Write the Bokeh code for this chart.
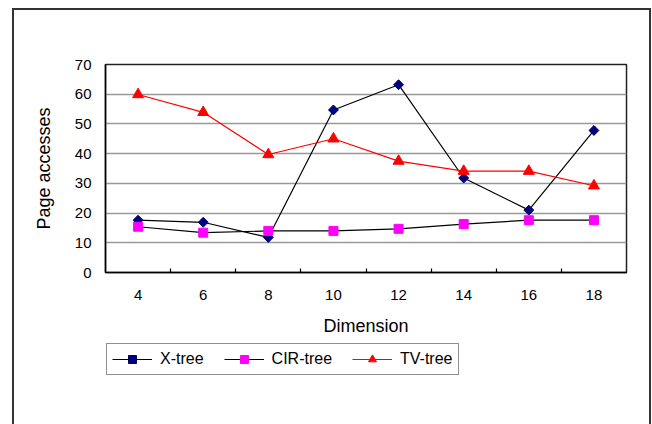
import math
from bokeh.plotting import figure
from bokeh.layouts import column
from bokeh.models import Range1d, FixedTicker, Legend, LegendItem
from bokeh.embed import file_html
from bokeh.resources import INLINE

dimensions = [4, 6, 8, 10, 12, 14, 16, 18]
x_tree = [17.6, 16.9, 11.8, 54.7, 63.2, 31.8, 21.0, 47.8]
cir_tree = [15.4, 13.4, 14.0, 14.0, 14.7, 16.3, 17.6, 17.6]
tv_tree = [59.9, 53.9, 39.7, 45.0, 37.5, 34.1, 34.1, 29.2]
y_ticks = [0, 10, 20, 30, 40, 50, 60, 70]
x_boundaries = [5, 7, 9, 11, 13, 15, 17]
series_names = ["X-tree", "CIR-tree", "TV-tree"]

FONT = "Liberation Sans"

# series styles
styles = [
    dict(line="black", marker="square", angle=math.pi / 4, size=7, fill="#000080", edge="#000060"),
    dict(line="black", marker="square", angle=0.0, size=9, fill="#FF00FF", edge="#FF00FF"),
    dict(line="#FF0000", marker="triangle", angle=0.0, size=11, fill="#FF0000", edge="#FF0000"),
]
series_values = [x_tree, cir_tree, tv_tree]

p = figure(frame_width=521, frame_height=208,
           min_border_left=91, min_border_right=23,
           min_border_top=54, min_border_bottom=70,
           x_range=Range1d(3, 19), y_range=Range1d(0, 70),
           output_backend="svg", toolbar_location=None,
           background_fill_color="white", border_fill_color="white")

p.outline_line_color = "#222222"
p.outline_line_width = 1.5

# axes
p.xaxis.ticker = FixedTicker(ticks=dimensions, minor_ticks=x_boundaries)
p.xaxis.major_tick_in = 0
p.xaxis.major_tick_out = 0
p.xaxis.minor_tick_in = 4
p.xaxis.minor_tick_out = 0
p.xaxis.minor_tick_line_color = "black"
p.xaxis.minor_tick_line_width = 1.2
p.xaxis.major_label_standoff = 17
p.xaxis.axis_label = "Dimension"
p.xaxis.axis_label_standoff = 13

p.yaxis.ticker = FixedTicker(ticks=y_ticks)
p.yaxis.major_tick_in = 0
p.yaxis.major_tick_out = 0
p.yaxis.minor_tick_line_color = None
p.yaxis.major_label_standoff = 14
p.yaxis.axis_label = "Page accesses"
p.yaxis.axis_label_standoff = 18

for ax in (p.xaxis, p.yaxis):
    ax.axis_line_color = "black"
    ax.axis_line_width = 1.5
    ax.major_label_text_font = FONT
    ax.major_label_text_font_size = "15px"
    ax.major_label_text_color = "black"
    ax.axis_label_text_font = FONT
    ax.axis_label_text_font_size = "18px"
    ax.axis_label_text_font_style = "normal"
    ax.axis_label_text_color = "black"

p.xgrid.grid_line_color = None
p.ygrid.ticker = FixedTicker(ticks=y_ticks[1:-1])
p.ygrid.grid_line_color = "#999999"
p.ygrid.grid_line_width = 1.5

for vals, st in zip(series_values, styles):
    p.line(dimensions, vals, line_color=st["line"], line_width=1.2)
    p.scatter(dimensions, vals, marker=st["marker"], angle=st["angle"], size=st["size"],
              fill_color=st["fill"], line_color=st["edge"], line_width=1)

# legend strip below the chart (its sample glyphs lie outside its range)
q = figure(frame_width=521, frame_height=82,
           min_border_left=91, min_border_right=23,
           min_border_top=0, min_border_bottom=0,
           x_range=Range1d(0, 1), y_range=Range1d(0, 1),
           x_axis_type=None, y_axis_type=None,
           output_backend="svg", toolbar_location=None,
           background_fill_color="white", border_fill_color="white")
q.outline_line_color = None
q.grid.grid_line_color = None

items = []
for name, st in zip(series_names, styles):
    ln = q.line([5, 6], [5, 6], line_color=st["line"], line_width=1.2)
    mk = q.scatter([5], [5], marker=st["marker"], angle=st["angle"], size=st["size"],
                   fill_color=st["fill"], line_color=st["edge"], line_width=1)
    items.append(LegendItem(label=name, renderers=[ln, mk]))

legend = Legend(items=items, orientation="horizontal", location=(1, 49))
legend.label_text_font = FONT
legend.label_text_font_size = "16px"
legend.label_text_color = "black"
legend.glyph_width = 40
legend.glyph_height = 20
legend.label_standoff = 8
legend.spacing = 20
legend.padding = 5
legend.margin = 0
legend.border_line_color = "#222222"
legend.border_line_width = 1.5
legend.background_fill_alpha = 1
q.add_layout(legend, "center")

layout = column(p, q, spacing=0)
# outer chart frame (left, top and right edges; bottom lies below the window)
layout.styles = {"margin-left": "12px", "margin-top": "8px",
                 "border-left": "2px solid #333333",
                 "border-top": "2px solid #333333",
                 "border-right": "2px solid #333333"}

open("out.html", "w").write(file_html(layout, INLINE))
